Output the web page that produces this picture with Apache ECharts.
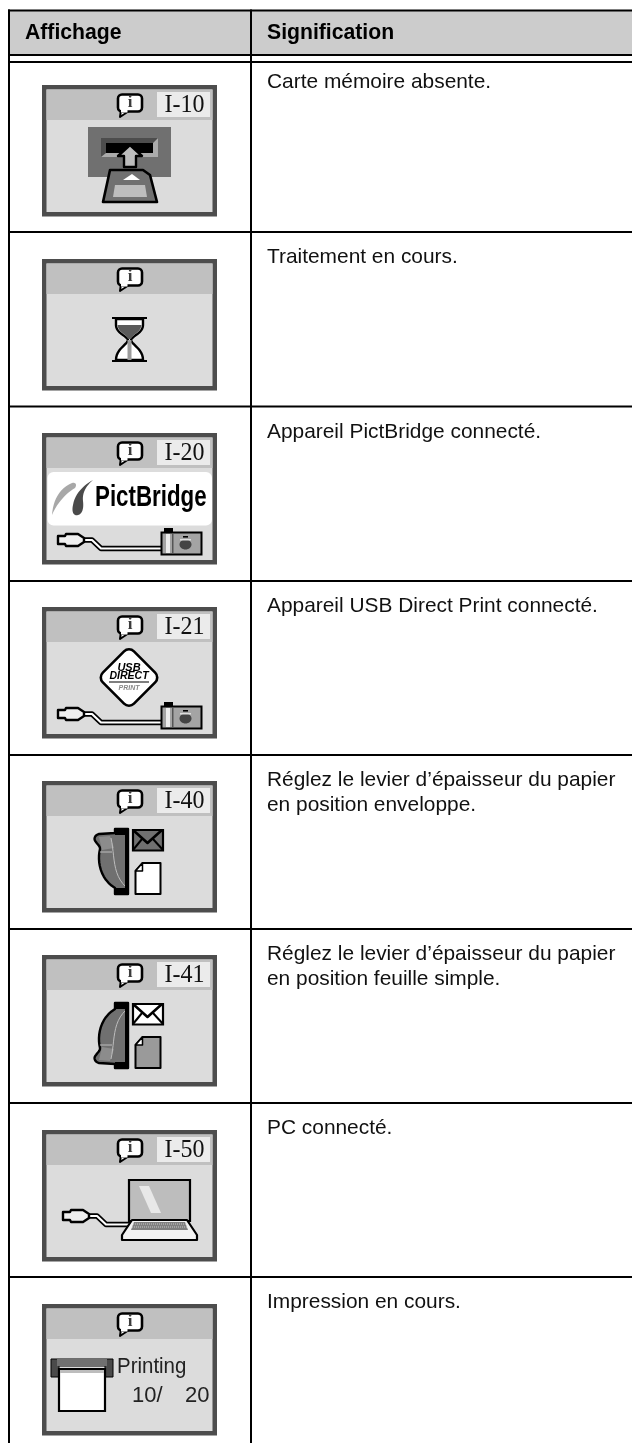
<!DOCTYPE html>
<html><head><meta charset="utf-8">
<style>html,body{margin:0;padding:0;background:#fff;overflow:hidden}#c{width:632px;height:1443px;filter:blur(0.45px)}</style>
<script src="https://cdn.jsdelivr.net/npm/echarts@6/dist/echarts.min.js"></script>
</head><body><div id="c"></div>
<script>
const headers = ['Affichage', 'Signification'];
const meanings = [
  'Carte mémoire absente.',
  'Traitement en cours.',
  'Appareil PictBridge connecté.',
  'Appareil USB Direct Print connecté.',
  'Réglez le levier d’épaisseur du papier\nen position enveloppe.',
  'Réglez le levier d’épaisseur du papier\nen position feuille simple.',
  'PC connecté.',
  'Impression en cours.'
];
const codes = ['I-10', '', 'I-20', 'I-21', 'I-40', 'I-41', 'I-50', ''];
const icons = ['card', 'hourglass', 'pict', 'usb', 'leverA', 'leverB', 'laptop', 'printing'];
const rowLines = [232, 406.5, 581, 755, 929, 1103, 1277];
const iconTops = [85, 259, 433, 607, 781, 955, 1130, 1304];
const textMids = [82.5, 257.5, 432, 606, 780, 954, 1128, 1302];

const K = '#000', D = '#4d4d4d', M = '#707070', G = '#9a9a9a', L = '#bdbdbd', BG = '#dcdcdc', W = '#fff';
const rect = (x, y, w, h, fill, r) => ({type: 'rect', shape: {x, y, width: w, height: h, r: r || 0}, style: {fill}});
const frame = (x, y, w, h, fill, lw, r) => ({type: 'rect', shape: {x, y, width: w, height: h, r: r || 0}, style: {fill, stroke: K, lineWidth: lw || 1.5}});
const poly = (points, fill, stroke, lw) => ({type: 'polygon', shape: {points}, style: {fill, stroke: stroke || null, lineWidth: lw || 0, lineJoin: 'round'}});
const line = (points, stroke, lw, dash) => ({type: 'polyline', shape: {points}, style: {fill: null, stroke, lineWidth: lw, lineJoin: 'round', lineCap: 'butt', lineDash: dash || null}});
function curve(start, segments) {
  // flattens outline pieces: a 2-number piece is a straight step, a 6-number piece a cubic
  const pts = [start];
  segments.forEach(s => {
    const p0 = pts[pts.length - 1];
    if (s.length === 2) { pts.push(s); return; }
    for (let t = 1; t <= 12; t++) {
      const u = t / 12, v = 1 - u;
      pts.push([
        v*v*v*p0[0] + 3*v*v*u*s[0] + 3*v*u*u*s[2] + u*u*u*s[4],
        v*v*v*p0[1] + 3*v*v*u*s[1] + 3*v*u*u*s[3] + u*u*u*s[5]
      ]);
    }
  });
  return pts;
}
const txt = (x, y, text, font, fill, align, extra) => Object.assign({type: 'text', x, y, style: {text, font, fill, textAlign: align || 'left', textVerticalAlign: 'middle'}}, extra || {});

function cable(px, py, ex) {
  const c = [[px+26, py+7],[px+34, py+7],[px+43, py+15.5],[ex, py+15.5]];
  return [
    line(c, K, 5.5),
    line(c, W, 2.2),
    poly([[px, py+3],[px+7, py+3],[px+8, py+1],[px+20, py+1],[px+26, py+5],[px+26, py+9],[px+20, py+13],[px+8, py+13],[px+7, py+11],[px, py+11]], '#efefef', K, 2.4)
  ];
}
function camera() {
  return [
    rect(122, 95, 9, 5, K),
    frame(119.5, 99.5, 40, 22, '#a4a4a4', 2),
    rect(124, 101, 4, 19, '#ececec'),
    rect(130, 101, 1.5, 19, '#555'),
    rect(141, 103, 5, 1.6, K),
    {type: 'ellipse', shape: {cx: 143.5, cy: 111.5, rx: 6, ry: 5}, style: {fill: '#444'}},
    rect(138, 106, 11, 1.5, '#ddd')
  ];
}
function lever(flip) {
  const f = p => p.map(([x, y]) => [x, flip ? 161 - y : y]);
  return [
    poly(f(curve([86,48], [[73,48],[73,52],[57,53],[53,54,51,58,54,61],[56,64,58,65,58,68],[55,80,58,98,73,107],[73,113],[86,113]])), M, K, 2.4),
    poly(f([[57,56],[68,55],[72,67],[60,69]]), '#8c8c8c'),
    line(f([[58,71],[70,71]]), L, 1),
    line(f(curve([69,57], [[73,75,70,93,84,106]])), L, 1),
    poly(f([[73,48],[86,48],[86,54],[73,54]]), K),
    poly(f([[73,107],[86,107],[86,113],[73,113]]), K),
    poly(f([[83,48],[86,48],[86,113],[83,113]]), K)
  ];
}
function envelope(fill) {
  return [
    frame(91, 49, 30, 20.5, fill, 2.2),
    line([[91, 49],[105.5, 62],[120, 49]], K, 2.6),
    line([[91, 69],[100, 58]], K, 2),
    line([[121, 69],[111, 58]], K, 2)
  ];
}
function sheet(fill) {
  return [
    poly([[100.5,82],[118.5,82],[118.5,113],[93.5,113],[93.5,90]], fill, K, 2),
    poly([[100.5,82],[100.5,90],[93.5,90]], W, K, 1.5)
  ];
}
const drawings = {
  card: () => [
    rect(46, 42, 83, 50, M),
    rect(59, 53, 57, 19, D),
    poly([[116,53],[116,72],[59,72],[64,68],[111,68],[111,58]], '#ababab'),
    rect(64, 58, 47, 10, K),
    poly([[88,60],[100,71],[94,71],[94,82],[82,82],[82,71],[76,71]], L, K, 2.4),
    poly([[68,85],[101,85],[108,90],[115,117],[61,117]], M, K, 2.6),
    poly([[73,100],[103,100],[105,112],[71,112]], L),
    poly([[90,89],[98,95],[81,95]], W)
  ],
  hourglass: () => [
    poly(curve([74,60], [[74,66],[74,74,85,77,86,81],[85,86,74,90,74,101],[101,101],[101,90,90,86,89,81],[90,77,101,74,101,66],[101,60]]), W, K, 2.4),
    poly(curve([75.5,66], [[99.5,66],[99,73,91,75,89,80],[86,80],[84,75,76,73,75.5,66]]), '#5a5a5a'),
    rect(85.5, 81, 4, 20, '#9c9c9c'),
    rect(70, 58, 35, 2, K),
    rect(70, 101, 35, 2, K)
  ],
  pict: () => [
    rect(5.5, 39, 164.5, 53.5, W, 6),
    poly(curve([10,82], [[11,68,17,55,30,50],[34,49,35,52,33,55],[25,60,16,68,10,82]]), '#a8a8a8'),
    poly(curve([51,47], [[42,52,33,60,31,72],[29,81,33,83,36,82],[40,81,42,76,41,68],[40,60,44,53,51,47]]), '#4a4a4a'),
    txt(53, 65, 'PictBridge', 'bold 29px "Liberation Sans"', K, 'left', {scaleX: 0.77}),
    ...cable(16, 100, 120),
    ...camera()
  ],
  usb: () => [
    {type: 'rect', x: 87, y: 70.5, rotation: Math.PI / 4, shape: {x: -22, y: -22, width: 44, height: 44, r: 7}, style: {fill: W, stroke: K, lineWidth: 2.6}},
    txt(87, 61, 'USB', 'italic 900 11px "Liberation Sans"', K, 'center'),
    txt(87, 69, 'DIRECT', 'italic 900 10.5px "Liberation Sans"', K, 'center'),
    rect(67, 74.5, 40, 1, K),
    txt(87, 81.5, 'PRINT', 'italic 700 7px "Liberation Sans"', '#888', 'center'),
    ...cable(16, 100, 120),
    ...camera()
  ],
  leverA: () => [...lever(false), ...envelope(M), ...sheet(W)],
  leverB: () => [...lever(true), ...envelope(W), ...sheet(G)],
  laptop: () => [
    ...cable(21, 79, 90),
    frame(87, 50, 61, 41, L, 2.2),
    poly([[97,56],[107,56],[119,83],[109,83]], '#e8e8e8'),
    poly([[90,90],[145,90],[155,105],[155,110],[80,110],[80,105]], '#f2f2f2', K, 2.2),
    poly([[92,92],[143,92],[146,100],[89,100]], '#808080'),
    line([[91,94],[144,94]], '#c8c8c8', 1, [1, 1]),
    line([[90,97],[145,97]], '#c8c8c8', 1, [1, 1])
  ],
  printing: () => [
    poly([[9,55],[71,55],[71,73],[63,73],[63,62],[17,62],[17,73],[9,73]], '#4a4a4a', K, 1),
    rect(15, 55, 50, 7, M),
    frame(17, 65, 46, 42, W, 2.2),
    rect(18, 66, 44, 3, L),
    txt(75, 62.5, 'Printing', '22px "Liberation Sans"', '#222', 'left', {scaleX: 0.93}),
    txt(90, 92, '10/', '22px "Liberation Sans"', '#222'),
    txt(143, 92, '20', '22px "Liberation Sans"', '#222')
  ]
};
function bubble() {
  return [
    poly([[79,25],[78,32],[87,26]], W, K, 2),
    frame(76, 9.5, 24, 17, W, 2.6, 4),
    rect(79, 25, 6.5, 2.5, W),
    txt(88, 18, 'i', '900 17px "Liberation Serif"', '#3c3c3c', 'center')
  ];
}
function icon(i) {
  const kids = [
    rect(0, 0, 175, 131.5, D),
    rect(4.5, 4.5, 166, 122.5, BG),
    rect(4.5, 4.5, 166, 30.5, '#c0c0c0'),
    ...bubble()
  ];
  if (codes[i]) {
    kids.push(rect(115, 7, 53, 25, '#ebebeb'));
    kids.push(txt(142.5, 20, codes[i], '25px "Liberation Serif"', '#111', 'center', {scaleX: 0.96}));
  }
  kids.push(...drawings[icons[i]]());
  return {type: 'group', x: 42, y: iconTops[i], children: kids};
}
const graphics = [];
const bar = (x, y, w, h) => ({type: 'rect', shape: {x, y, width: w, height: h}, style: {fill: K}});
graphics.push({type: 'rect', shape: {x: 9, y: 10, width: 623, height: 45}, style: {fill: '#cccccc'}});
graphics.push(bar(8, 9.5, 624, 2), bar(8, 54, 624, 2), bar(8, 61, 624, 2));
graphics.push(bar(8, 9.5, 2, 1433.5), bar(250, 9.5, 2, 1433.5));
rowLines.forEach(y => graphics.push(bar(8, y - 1, 624, 2)));
graphics.push({type: 'text', x: 25, y: 33, style: {text: headers[0], font: 'bold 21.2px "Liberation Sans"', fill: K, textVerticalAlign: 'middle'}});
graphics.push({type: 'text', x: 267, y: 33, style: {text: headers[1], font: 'bold 21.2px "Liberation Sans"', fill: K, textVerticalAlign: 'middle'}});
meanings.forEach((t, i) => {
  graphics.push({type: 'text', x: 267, y: textMids[i] - 12.5, style: {text: t, font: '20.9px "Liberation Sans"', lineHeight: 25, fill: '#111', textVerticalAlign: 'top'}});
  graphics.push(icon(i));
});
const chart = echarts.init(document.getElementById('c'), null, {renderer: 'canvas'});
chart.setOption({animation: false, backgroundColor: '#fff', graphic: {elements: graphics}});
</script></body></html>
